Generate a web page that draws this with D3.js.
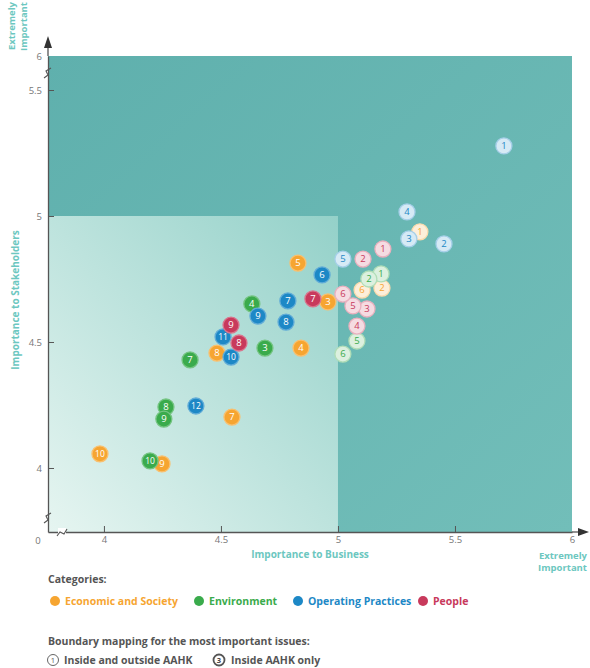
<!DOCTYPE html>
<html><head><meta charset="utf-8">
<script src="https://cdn.jsdelivr.net/npm/d3@7"></script>
<style>body{margin:0;background:#fff;font-family:"Open Sans",sans-serif}</style>
</head><body><div id="chart"></div>
<script>
// ---- data ----
const categories = ["Economic and Society","Environment","Operating Practices","People"];
const categoryColors = ["#f6a531","#3aab4c","#1d88c6","#c83a5c"];
const xTicks = [4,4.5,5,5.5,6];
const yTicks = [4,4.5,5,5.5,6];
// [id, business, stakeholders, insideOutside(1) / insideOnly(0)]
const economic = [[1,5.35,4.937,1],[2,5.188,4.714,1],[3,4.957,4.659,0],[4,4.842,4.476,0],[5,4.829,4.813,0],[6,5.103,4.706,1],[7,4.547,4.202,0],[8,4.483,4.456,0],[9,4.248,4.016,0],[10,3.983,4.056,0]];
const environment = [[1,5.184,4.77,1],[2,5.132,4.75,1],[3,4.688,4.476,0],[4,4.632,4.651,0],[5,5.081,4.504,1],[6,5.021,4.452,1],[7,4.368,4.429,0],[8,4.265,4.242,0],[9,4.256,4.194,0],[10,4.197,4.028,0]];
const operating = [[1,5.709,5.278,1],[2,5.453,4.889,1],[3,5.303,4.909,1],[4,5.295,5.016,1],[5,5.021,4.829,1],[6,4.932,4.766,0],[7,4.786,4.663,0],[8,4.778,4.579,0],[9,4.658,4.603,0],[10,4.543,4.44,0],[11,4.509,4.52,0],[12,4.393,4.246,0]];
const people = [[1,5.192,4.869,1],[2,5.107,4.829,1],[3,5.124,4.631,1],[4,5.081,4.563,1],[5,5.064,4.643,1],[6,5.021,4.69,1],[7,4.893,4.671,0],[8,4.577,4.496,0],[9,4.543,4.567,0]];
const seriesData = [economic, environment, operating, people];

// ---- chart ----
const W = 590, H = 668;
const svg = d3.select("#chart").append("svg").attr("width", W).attr("height", H);
const x = d3.scaleLinear().domain([3.761, 6]).range([48, 572]);
const y = d3.scaleLinear().domain([3.746, 5.5, 6]).range([532, 90, 56]);
const defs = svg.append("defs");
const gDark = defs.append("linearGradient").attr("id","gDark").attr("x1","0").attr("y1","0").attr("x2","1").attr("y2","1");
gDark.append("stop").attr("offset","0").attr("stop-color","#5fb0ad");
gDark.append("stop").attr("offset","1").attr("stop-color","#72beb9");
const gLight = defs.append("linearGradient").attr("id","gLight").attr("x1","0").attr("y1","1").attr("x2","1").attr("y2","0");
gLight.append("stop").attr("offset","0").attr("stop-color","#e6f5f1");
gLight.append("stop").attr("offset","1").attr("stop-color","#94d1c9");

svg.append("rect").attr("x", x(3.761)).attr("y", y(6)).attr("width", x(6)-x(3.761)).attr("height", y(3.746)-y(6)).attr("fill","url(#gDark)");
svg.append("rect").attr("x", x(3.761)).attr("y", y(5)).attr("width", x(5)-x(3.761)).attr("height", y(3.746)-y(5)).attr("fill","url(#gLight)");

// axes
const axCol = "#555";
const xAxis = svg.append("g").attr("transform", `translate(0,${y(3.746)})`)
  .call(d3.axisBottom(x).tickValues(xTicks).tickSizeInner(-6).tickSizeOuter(0).tickPadding(4).tickFormat(d3.format("")));
const yAxis = svg.append("g").attr("transform", `translate(${x(3.761)},0)`)
  .call(d3.axisLeft(y).tickValues(yTicks).tickSizeInner(-6).tickSizeOuter(0).tickPadding(6).tickFormat(d3.format("")));
[xAxis, yAxis].forEach(a => {
  a.select(".domain").attr("stroke", axCol).attr("stroke-width", 1.3);
  a.selectAll(".tick line").attr("stroke", axCol);
  a.selectAll(".tick text").attr("fill", "#777").attr("font-size", 9.5).attr("font-family","Open Sans");
});
yAxis.select(".tick:last-of-type line").remove();
xAxis.select(".tick:last-of-type line").remove();
// extend axes with arrows
svg.append("line").attr("x1", x(3.761)).attr("x2", x(3.761)).attr("y1", y(6)).attr("y2", 46).attr("stroke", axCol).attr("stroke-width",1.3);
svg.append("path").attr("d", `M${x(3.761)-4},48 L${x(3.761)},36 L${x(3.761)+4},48 Z`).attr("fill","#333");
svg.append("line").attr("x1", x(6)).attr("x2", 578).attr("y1", y(3.746)).attr("y2", y(3.746)).attr("stroke", axCol).attr("stroke-width",1.3);
svg.append("path").attr("d", `M578,${y(3.746)-4} L589,${y(3.746)} L578,${y(3.746)+4} Z`).attr("fill","#333");
svg.append("text").attr("x", 38).attr("y", 544).attr("text-anchor","middle").attr("font-size",9.5).attr("fill","#777").text("0");

// axis breaks
function brk(cx, cy, horiz){
  const g = svg.append("g").attr("transform", `translate(${cx},${cy})`);
  g.append("rect").attr("x",-4).attr("y",-4).attr("width",8).attr("height",8).attr("fill", horiz? "#fff":"none");
  g.append("path").attr("d", horiz ? "M-5,4 L-2,0 L2,2 L5,-3" : "M-4,5 L0,2 L-2,-2 L3,-5")
    .attr("fill","none").attr("stroke",axCol).attr("stroke-width",1.1);
}
brk(48, 73, false);
brk(48, 518, false);
brk(62, 532, true);

// axis titles
const teal = "#6cc7c0";
svg.append("text").attr("x", 310).attr("y", 558).attr("text-anchor","middle").attr("font-size",10).attr("font-weight","bold").attr("fill",teal).text("Importance to Business");
svg.append("text").attr("x", 587).attr("y", 559).attr("text-anchor","end").attr("font-size",9.5).attr("font-weight","bold").attr("fill",teal).text("Extremely");
svg.append("text").attr("x", 587).attr("y", 571).attr("text-anchor","end").attr("font-size",9.5).attr("font-weight","bold").attr("fill",teal).text("Important");
svg.append("text").attr("transform","translate(19,300) rotate(-90)").attr("text-anchor","middle").attr("font-size",10).attr("font-weight","bold").attr("fill",teal).text("Importance to Stakeholders");
svg.append("text").attr("transform","translate(15,2) rotate(-90)").attr("text-anchor","end").attr("font-size",9.5).attr("font-weight","bold").attr("fill",teal).text("Extremely");
svg.append("text").attr("transform","translate(27,2) rotate(-90)").attr("text-anchor","end").attr("font-size",9.5).attr("font-weight","bold").attr("fill",teal).text("Important");

// points
const r = 8;
function tint(c, t){ return d3.interpolateRgb(c, "#ffffff")(t); }
seriesData.forEach((data, si) => {
  const col = categoryColors[si];
  const g = svg.append("g");
  const pt = g.selectAll("g").data(data).join("g").attr("transform", d => `translate(${x(d[1])},${y(d[2])})`);
  pt.append("circle").attr("r", r)
    .attr("fill", d => d[3] ? tint(col, 0.82) : col)
    .attr("stroke", d => d[3] ? tint(col, 0.6) : tint(col, 0.3))
    .attr("stroke-width", 1.3);
  pt.append("text").attr("text-anchor","middle").attr("dy","0.35em").attr("font-size", d => d[0] >= 10 ? 8.5 : 9.5)
    .attr("font-family","Open Sans")
    .attr("fill", d => d[3] ? col : "#fff").text(d => d[0]);
});

// legend
const dark = "#555";
const lf = 10.5;
svg.append("text").attr("x",48).attr("y",583).attr("font-size",lf).attr("font-weight","bold").attr("fill",dark).text("Categories:");
const legX = [55, 199, 298, 423];
categories.forEach((c,i) => {
  svg.append("circle").attr("cx", legX[i]).attr("cy", 601).attr("r", 5).attr("fill", categoryColors[i]);
  svg.append("text").attr("x", legX[i]+10).attr("y", 605).attr("font-size",lf).attr("font-weight","bold").attr("fill", categoryColors[i]).text(c);
});
svg.append("text").attr("x",48).attr("y",645).attr("font-size",lf).attr("font-weight","bold").attr("fill",dark).text("Boundary mapping for the most important issues:");
svg.append("circle").attr("cx",53).attr("cy",660).attr("r",5.5).attr("fill","#fff").attr("stroke","#666").attr("stroke-width",1);
svg.append("text").attr("x",53).attr("y",663).attr("text-anchor","middle").attr("font-size",7.5).attr("fill","#555").text("1");
svg.append("text").attr("x",64).attr("y",664).attr("font-size",lf).attr("font-weight","bold").attr("fill",dark).text("Inside and outside AAHK");
svg.append("circle").attr("cx",219).attr("cy",660).attr("r",5.5).attr("fill","#fff").attr("stroke","#555").attr("stroke-width",1.8);
svg.append("text").attr("x",219).attr("y",663).attr("text-anchor","middle").attr("font-size",7.5).attr("font-weight","bold").attr("fill","#444").text("3");
svg.append("text").attr("x",231).attr("y",664).attr("font-size",lf).attr("font-weight","bold").attr("fill",dark).text("Inside AAHK only");
</script></body></html>
